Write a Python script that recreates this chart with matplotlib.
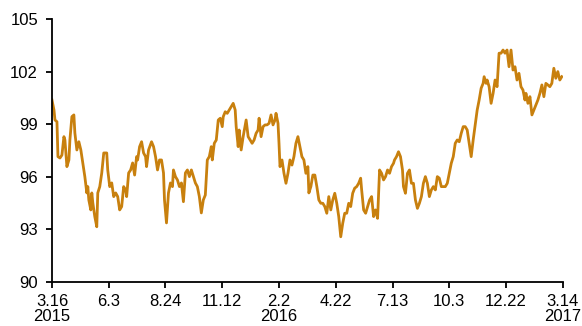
import matplotlib
matplotlib.use('Agg')
import matplotlib.pyplot as plt

plt.rcParams['font.family'] = ['Liberation Sans', 'DejaVu Sans']

# trading-day offset from 2015-03-16, and index level
days = [0, 2, 3, 5, 6, 8, 10, 12, 13, 15, 17, 18, 20, 22, 23, 25, 27, 29, 31, 33,
        35, 36, 37, 39, 40, 41, 43, 45, 46, 48, 50, 52, 55, 56, 58, 60, 62, 64, 66, 68,
        70, 72, 74, 75, 77, 79, 81, 83, 85,
        86, 88, 90, 92, 94, 95, 97, 100, 102, 104, 106, 108, 110, 112, 113, 115, 117, 119, 121, 122,
        124, 126, 128, 130, 132, 134, 136, 138, 140, 142, 144, 146, 148, 150, 152, 154, 156, 158, 160, 161,
        163, 165, 167, 169, 171,
        172, 174, 176, 178, 180, 182, 184, 185, 187, 188, 190, 192, 195, 197, 199, 201, 203, 205, 207, 208,
        210, 212, 214, 216, 218, 220, 222, 224, 225, 227, 228, 229, 231, 233, 235, 237, 239, 241, 243, 245,
        247, 249, 251, 253, 255, 257,
        258, 260, 262, 264, 266, 268, 270, 272, 274, 276, 278, 280, 282, 284, 286, 288, 290, 292, 294, 296,
        298, 300, 302, 304, 306, 308, 310, 311, 313, 315, 317, 319, 321, 323, 325, 327, 329, 331, 333, 335,
        337, 339, 341, 343,
        344, 346, 348, 350, 352, 353, 355, 357, 359, 361, 363, 365, 367, 369, 371, 373, 375, 377, 379, 381,
        383, 385, 387, 389, 391, 393, 395, 397, 399, 401, 403, 405, 407, 409, 411, 413, 415, 417, 419, 421,
        423, 425, 427, 429, 431, 433, 434, 436, 437, 439, 441, 443, 445, 447, 449, 451, 453, 455, 457, 459,
        461, 463, 465, 467, 469, 471, 473, 475, 476, 478, 480, 482, 484, 486, 488, 490, 492, 494, 496, 498,
        500, 502, 504, 506, 508, 510, 512]

level = [100.38, 99.81, 99.24, 99.14, 97.15, 97.07, 97.24, 98.29, 98.10, 96.58,
         96.96, 98.10, 99.43, 99.53, 98.50, 97.53, 98.00, 97.53, 96.79, 96.01,
         95.08, 95.44, 94.68, 94.11, 95.08, 94.52, 93.73, 93.15, 95.08, 95.44,
         96.22, 97.36, 97.36, 96.39, 95.44, 95.65, 94.87, 95.08, 94.87, 94.11,
         94.30, 95.44, 95.25, 94.87, 96.22, 96.39, 96.79, 96.10, 97.15,
         96.96, 97.72, 98.00, 97.36, 97.15, 96.58, 97.53, 98.00, 97.72, 97.15,
         96.39, 96.96, 96.96, 96.22, 94.68, 93.37, 95.08, 95.65, 95.44, 96.39,
         96.01, 95.82, 95.44, 95.65, 94.58, 96.22, 96.39, 96.01, 96.39, 96.01,
         95.65, 95.44, 94.87, 93.94, 94.68, 94.96, 96.96, 97.15, 97.72, 96.96,
         97.91, 98.10, 99.24, 99.34, 98.86,
         99.43, 99.71, 99.62, 99.81, 100.00, 100.19, 99.81, 98.86, 97.72, 98.67,
         97.53, 98.29, 99.24, 98.29, 98.10, 97.91, 98.10, 98.48, 98.67, 99.34,
         98.29, 98.86, 98.96, 98.96, 99.05, 99.53, 98.96, 99.24, 99.62, 99.05,
         97.91, 96.58, 96.96, 96.20, 95.63, 96.20, 96.96, 96.67, 97.15, 97.91,
         98.29, 97.72, 97.15, 96.96, 96.20, 96.58,
         95.08, 95.44, 96.10, 96.10, 95.44, 94.68, 94.49, 94.49, 94.30, 93.92,
         94.87, 94.11, 94.68, 95.06, 94.49, 93.73, 92.58, 93.35, 93.92, 93.92,
         94.49, 94.30, 95.06, 95.35, 95.44, 95.63, 95.92, 95.25, 94.11, 93.92,
         94.30, 94.68, 94.87, 93.73, 94.11, 93.63, 96.39, 96.20, 95.82, 96.01,
         96.39, 96.20, 96.58, 96.77,
         96.96, 97.15, 97.43, 97.15, 96.39, 95.44, 95.06, 96.20, 96.39, 95.63,
         95.63, 94.68, 94.20, 94.49, 94.87, 95.63, 96.01, 95.63, 94.87, 95.25,
         95.44, 95.25, 96.01, 95.92, 95.44, 95.44, 95.44, 95.63, 96.20, 96.77,
         97.15, 97.91, 98.10, 98.00, 98.48, 98.86, 98.86, 98.67, 97.91, 97.15,
         98.10, 98.96, 99.80, 100.38, 101.05, 101.33, 101.71, 101.33, 101.52, 101.14,
         100.19, 100.76, 101.52, 101.14, 103.05, 103.05, 103.23, 103.05, 103.23, 102.28,
         103.23, 102.09, 102.28, 101.52, 101.90, 101.14, 100.95, 100.38, 100.76, 100.19,
         100.57, 99.53, 99.81, 100.10, 100.38, 100.76, 101.24, 100.57, 101.33, 101.24,
         101.14, 101.33, 102.19, 101.62, 102.00, 101.52, 101.71]

tick_days = [0, 57, 114, 171, 228, 285, 342, 399, 456, 513]
tick_labels = ['3.16\n2015', '6.3', '8.24', '11.12', '2.2\n2016', '4.22',
               '7.13', '10.3', '12.22', '3.14\n2017']
yticks = [90, 93, 96, 99, 102, 105]

fig = plt.figure(figsize=(5.82, 3.26), dpi=100)
ax = fig.add_axes([0.0893, 0.135, 0.8777, 0.8067])
ax.plot(days, level, color='#C8800E', lw=2.0)

ax.set_xlim(0, 513)
ax.set_ylim(90, 105)
ax.set_yticks(yticks)
ax.set_xticks(tick_days)
ax.set_xticklabels(tick_labels, linespacing=1.0)
ax.tick_params(axis='both', labelsize=12, direction='out', length=4, width=1.3, colors='black')
ax.tick_params(axis='x', pad=5)
ax.tick_params(axis='y', pad=6)
for s in ['top', 'right']:
    ax.spines[s].set_visible(False)
for s in ['left', 'bottom']:
    ax.spines[s].set_linewidth(1.3)

fig.savefig('out.png', dpi=100)
